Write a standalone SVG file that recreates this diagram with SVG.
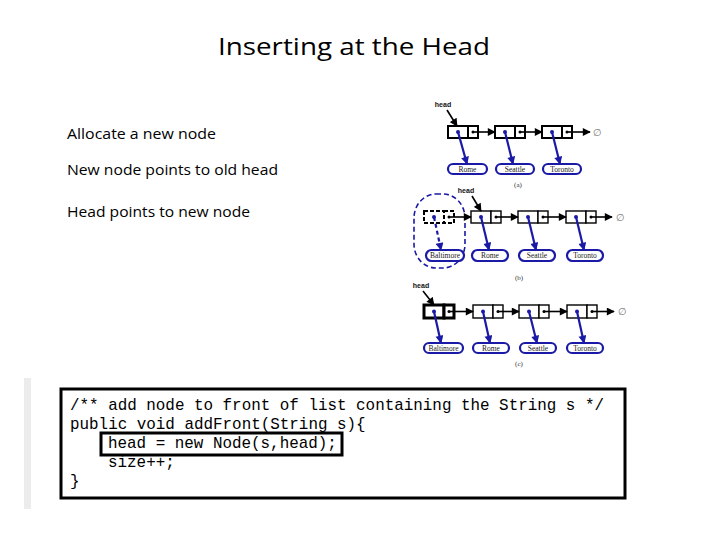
<svg xmlns="http://www.w3.org/2000/svg" width="720" height="540" viewBox="0 0 720 540">
<defs>
<style>
.title{font-family:"Open Sans","Liberation Sans",Arial,sans-serif;font-size:24px;fill:#000}
.bullet{font-family:"Open Sans","Liberation Sans",Arial,sans-serif;font-size:14px;fill:#000}
.code{font-family:"Liberation Mono","Courier New",monospace;font-size:15.9px;fill:#000;white-space:pre}
.cell{fill:#fff;stroke:#000;stroke-width:2}
.cellb{fill:#fff;stroke:#000;stroke-width:1.4}
.cellthick{fill:#fff;stroke:#000;stroke-width:3}
.dash{fill:#fff;stroke:#000;stroke-width:2;stroke-dasharray:4 2}
.pill{fill:#fff;stroke:#1a1aa6;stroke-width:2.2}
.lbl{font-family:"Liberation Serif","Times New Roman",serif;font-size:7.5px;fill:#222;text-anchor:middle}
.cap{font-family:"Liberation Serif","Times New Roman",serif;font-size:7px;fill:#333;text-anchor:middle}
.hd{font-family:"Liberation Sans",Arial,sans-serif;font-size:7px;font-weight:bold;fill:#111;text-anchor:middle}
.nul{font-family:"DejaVu Sans",sans-serif;font-size:10px;fill:#777;text-anchor:middle}
.ptr{stroke:#000;stroke-width:1.6;fill:none;marker-end:url(#ab)}
.bptr{stroke:#1a1aa6;stroke-width:2.2;fill:none;marker-end:url(#ablue)}
.dot{fill:#1a1aa6}
.kdot{fill:#000}
</style>
<marker id="ab" viewBox="0 0 10 10" refX="9" refY="5" markerWidth="9" markerHeight="8" markerUnits="userSpaceOnUse" orient="auto"><path d="M0,0 L10,5 L0,10 z" fill="#000"/></marker>
<marker id="ablue" viewBox="0 0 10 10" refX="9" refY="5" markerWidth="9" markerHeight="8" markerUnits="userSpaceOnUse" orient="auto"><path d="M0,0 L10,5 L0,10 z" fill="#1a1aa6"/></marker>
</defs>
<rect width="720" height="540" fill="#fff"/>

<text class="title" x="354" y="55" text-anchor="middle" textLength="272" lengthAdjust="spacingAndGlyphs">Inserting at the Head</text>
<text class="bullet" x="67" y="139" textLength="149" lengthAdjust="spacingAndGlyphs">Allocate a new node</text>
<text class="bullet" x="67" y="175" textLength="211" lengthAdjust="spacingAndGlyphs">New node points to old head</text>
<text class="bullet" x="67" y="217" textLength="183" lengthAdjust="spacingAndGlyphs">Head points to new node</text>

<!-- Diagram (a) -->
<g id="a-head"><text class="hd" x="443" y="107">head</text></g>
<g id="a-n1"><rect class="cell" x="448" y="126" width="20" height="12"/><rect class="cell" x="468" y="126" width="10" height="12"/><circle class="dot" cx="458" cy="132" r="2"/><circle class="kdot" cx="473" cy="132" r="1.5"/></g>
<g id="a-n2"><rect class="cell" x="495" y="126" width="20" height="12"/><rect class="cell" x="515" y="126" width="10" height="12"/><circle class="dot" cx="505" cy="132" r="2"/><circle class="kdot" cx="520" cy="132" r="1.5"/></g>
<g id="a-n3"><rect class="cell" x="542" y="126" width="20" height="12"/><rect class="cell" x="562" y="126" width="10" height="12"/><circle class="dot" cx="552" cy="132" r="2"/><circle class="kdot" cx="567" cy="132" r="1.5"/></g>
<g id="a-null"><text class="nul" x="597" y="136">∅</text></g>
<g id="a-p1"><rect class="pill" x="448" y="164" width="39" height="10" rx="5"/><text class="lbl" x="467.5" y="171.5">Rome</text></g>
<g id="a-p2"><rect class="pill" x="496" y="164" width="38" height="10" rx="5"/><text class="lbl" x="515" y="171.5">Seattle</text></g>
<g id="a-p3"><rect class="pill" x="543" y="164" width="38" height="10" rx="5"/><text class="lbl" x="562" y="171.5">Toronto</text></g>
<g id="a-cap"><text class="cap" x="518" y="187">(a)</text></g>

<!-- Diagram (b) -->
<g id="b-group"><rect x="414" y="194" width="51" height="74" rx="22" ry="24" fill="none" stroke="#1a1aa6" stroke-width="1.6" stroke-dasharray="5 3"/></g>
<g id="b-head"><text class="hd" x="466" y="193">head</text></g>
<g id="b-new"><rect class="dash" x="424" y="211" width="20" height="12"/><rect class="dash" x="444" y="211" width="10" height="12"/><circle class="dot" cx="434" cy="217" r="2"/><circle class="kdot" cx="449" cy="217" r="1.5"/></g>
<g id="b-n1"><rect class="cellb" x="471" y="211" width="20" height="12"/><rect class="cellb" x="491" y="211" width="10" height="12"/><circle class="dot" cx="481" cy="217" r="2"/><circle class="kdot" cx="496" cy="217" r="1.5"/></g>
<g id="b-n2"><rect class="cellb" x="518" y="211" width="20" height="12"/><rect class="cellb" x="538" y="211" width="10" height="12"/><circle class="dot" cx="528" cy="217" r="2"/><circle class="kdot" cx="543" cy="217" r="1.5"/></g>
<g id="b-n3"><rect class="cellb" x="566" y="211" width="20" height="12"/><rect class="cellb" x="586" y="211" width="10" height="12"/><circle class="dot" cx="576" cy="217" r="2"/><circle class="kdot" cx="591" cy="217" r="1.5"/></g>
<g id="b-null"><text class="nul" x="620" y="221">∅</text></g>
<g id="b-p0"><rect class="pill" x="426" y="250" width="38" height="11" rx="5.5"/><text class="lbl" x="445" y="258">Baltimore</text></g>
<g id="b-p1"><rect class="pill" x="472" y="250" width="36" height="11" rx="5.5"/><text class="lbl" x="490" y="258">Rome</text></g>
<g id="b-p2"><rect class="pill" x="519" y="250" width="36" height="11" rx="5.5"/><text class="lbl" x="537" y="258">Seattle</text></g>
<g id="b-p3"><rect class="pill" x="567" y="250" width="36" height="11" rx="5.5"/><text class="lbl" x="585" y="258">Toronto</text></g>
<g id="b-cap"><text class="cap" x="519" y="280">(b)</text></g>

<!-- Diagram (c) -->
<g id="c-head"><text class="hd" x="421" y="288">head</text></g>
<g id="c-n0"><rect class="cellthick" x="424" y="305" width="20" height="13"/><rect class="cellthick" x="444" y="305" width="10" height="13"/><circle class="dot" cx="434" cy="311.5" r="2"/><circle class="kdot" cx="449" cy="311.5" r="1.5"/></g>
<g id="c-n1"><rect class="cellb" x="473" y="305" width="20" height="13"/><rect class="cellb" x="493" y="305" width="10" height="13"/><circle class="dot" cx="483" cy="311.5" r="2"/><circle class="kdot" cx="498" cy="311.5" r="1.5"/></g>
<g id="c-n2"><rect class="cellb" x="519" y="305" width="20" height="13"/><rect class="cellb" x="539" y="305" width="10" height="13"/><circle class="dot" cx="529" cy="311.5" r="2"/><circle class="kdot" cx="544" cy="311.5" r="1.5"/></g>
<g id="c-n3"><rect class="cellb" x="567" y="305" width="20" height="13"/><rect class="cellb" x="587" y="305" width="10" height="13"/><circle class="dot" cx="577" cy="311.5" r="2"/><circle class="kdot" cx="592" cy="311.5" r="1.5"/></g>
<g id="c-null"><text class="nul" x="622" y="315">∅</text></g>
<g id="c-p0"><rect class="pill" x="424" y="343" width="39" height="10" rx="5"/><text class="lbl" x="443.5" y="350.5">Baltimore</text></g>
<g id="c-p1"><rect class="pill" x="473" y="343" width="36" height="10" rx="5"/><text class="lbl" x="491" y="350.5">Rome</text></g>
<g id="c-p2"><rect class="pill" x="520" y="343" width="36" height="10" rx="5"/><text class="lbl" x="538" y="350.5">Seattle</text></g>
<g id="c-p3"><rect class="pill" x="567" y="343" width="36" height="10" rx="5"/><text class="lbl" x="585" y="350.5">Toronto</text></g>
<g id="c-cap"><text class="cap" x="519" y="366">(c)</text></g>

<g id="connectors">
<!-- (a) -->
<path class="ptr" d="M447,110 L457,126" stroke-width="2.2"/>
<path class="ptr" d="M473,132 L495,132"/>
<path class="ptr" d="M520,132 L542,132"/>
<path class="ptr" d="M567,132 L590,132"/>
<path class="bptr" d="M458,132 L467,164"/>
<path class="bptr" d="M505,132 L513,164"/>
<path class="bptr" d="M552,132 L560,164"/>
<!-- (b) -->
<path class="ptr" d="M472,196 L481,211" stroke-width="2.2"/>
<path class="ptr" d="M449,217 L471,217" stroke-width="2.2"/>
<path class="ptr" d="M496,217 L518,217"/>
<path class="ptr" d="M543,217 L566,217"/>
<path class="ptr" d="M591,217 L612,217"/>
<path class="bptr" d="M434,217 L441,250" stroke-dasharray="4 3"/>
<path class="bptr" d="M481,217 L489,250"/>
<path class="bptr" d="M528,217 L536,250"/>
<path class="bptr" d="M576,217 L584,250"/>
<!-- (c) -->
<path class="ptr" d="M423,291 L434,305" stroke-width="2.2"/>
<path class="ptr" d="M449,311.5 L473,311.5"/>
<path class="ptr" d="M498,311.5 L519,311.5"/>
<path class="ptr" d="M544,311.5 L567,311.5"/>
<path class="ptr" d="M592,311.5 L614,311.5"/>
<path class="bptr" d="M434,311.5 L441,343"/>
<path class="bptr" d="M483,311.5 L490,343"/>
<path class="bptr" d="M529,311.5 L537,343"/>
<path class="bptr" d="M577,311.5 L584,343"/>
</g>

<!-- Code -->
<rect x="24" y="378" width="7" height="131" fill="#ececec"/>
<g id="code">
<rect x="61" y="389" width="564" height="109" fill="#fff" stroke="#000" stroke-width="3"/>
<rect x="101" y="433" width="241" height="22" fill="none" stroke="#000" stroke-width="3"/>
<text class="code" x="70" y="410">/** add node to front of list containing the String s */</text>
<text class="code" x="70" y="429">public void addFront(String s){</text>
<text class="code" x="108" y="448">head = new Node(s,head);</text>
<text class="code" x="108" y="467">size++;</text>
<text class="code" x="70" y="486">}</text>
</g>
</svg>
